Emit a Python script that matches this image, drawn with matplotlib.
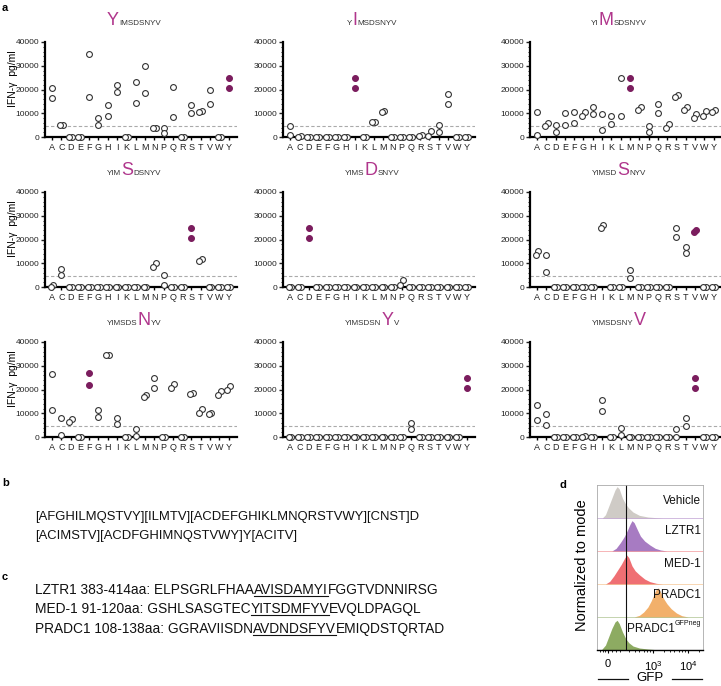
import matplotlib
matplotlib.use('Agg')
import matplotlib.pyplot as plt
from matplotlib.lines import Line2D
from matplotlib.ticker import MultipleLocator

plt.rcParams['font.family'] = ['Liberation Sans', 'DejaVu Sans']
plt.rcParams['mathtext.fontset'] = 'custom'
plt.rcParams['mathtext.rm'] = 'Liberation Sans'
plt.rcParams['mathtext.it'] = 'Liberation Sans:italic'

W, H = 721, 686

residues = ['A', 'C', 'D', 'E', 'F', 'G', 'H', 'I', 'K', 'L',
            'M', 'N', 'P', 'Q', 'R', 'S', 'T', 'V', 'W', 'Y']
peptide = 'YIMSDSNYV'

# IFN-g pg/ml, two replicates for every substitution at each peptide position
p1_r1 = [20500, 5000, 0, 0, 35000, 8000, 13500, 22000, 0, 23000, 30000, 4000, 4000, 21000, 0, 13500, 11000, 20000, 0, 25000]
p1_r2 = [16500, 5000, 0, 0, 17000, 5000, 9000, 19000, 0, 14500, 18500, 4000, 1500, 8500, 0, 10000, 10500, 14000, 0, 20500]
p2_r1 = [4500, 500, 0, 0, 0, 0, 0, 25000, 0, 6500, 11000, 0, 0, 0, 1000, 2500, 5000, 18000, 0, 0]
p2_r2 = [1000, 0, 0, 0, 0, 0, 0, 20500, 0, 6500, 10500, 0, 0, 0, 500, 500, 2000, 14000, 0, 0]
p3_r1 = [10500, 6000, 5000, 10000, 10500, 10500, 12500, 9500, 9000, 25000, 25000, 12500, 4500, 14000, 5500, 17500, 12500, 9500, 11000, 11500]
p3_r2 = [1000, 4500, 2000, 5000, 6000, 9000, 9500, 3000, 5500, 9000, 20500, 11500, 2000, 10000, 4000, 17000, 11500, 8000, 9000, 10500]
p4_r1 = [1000, 7500, 0, 0, 0, 0, 0, 0, 0, 0, 0, 10000, 5000, 0, 0, 25000, 12000, 0, 0, 0]
p4_r2 = [0, 5000, 0, 0, 0, 0, 0, 0, 0, 0, 0, 8500, 1000, 0, 0, 20500, 11000, 0, 0, 0]
p5_r1 = [0, 0, 25000, 0, 0, 0, 0, 0, 0, 0, 0, 0, 3000, 0, 0, 0, 0, 0, 0, 0]
p5_r2 = [0, 0, 20500, 0, 0, 0, 0, 0, 0, 0, 0, 0, 1000, 0, 0, 0, 0, 0, 0, 0]
p6_r1 = [15000, 13500, 0, 0, 0, 0, 0, 26000, 0, 0, 7000, 0, 0, 0, 0, 25000, 17000, 24000, 0, 0]
p6_r2 = [13500, 6500, 0, 0, 0, 0, 0, 25000, 0, 0, 4000, 0, 0, 0, 0, 21000, 14500, 23000, 0, 0]
p7_r1 = [26500, 8000, 7500, 0, 27000, 11500, 34500, 8000, 0, 3500, 17500, 25000, 0, 22500, 0, 18500, 12000, 10000, 19500, 21500]
p7_r2 = [11500, 1000, 6500, 0, 22000, 8500, 34500, 5500, 0, 500, 17000, 20500, 0, 20500, 0, 18000, 10000, 9500, 17500, 20000]
p8_r1 = [0, 0, 0, 0, 0, 0, 0, 0, 0, 0, 0, 0, 0, 6000, 0, 0, 0, 0, 0, 25000]
p8_r2 = [0, 0, 0, 0, 0, 0, 0, 0, 0, 0, 0, 0, 0, 3500, 0, 0, 0, 0, 0, 20500]
p9_r1 = [13500, 9500, 0, 0, 0, 500, 0, 15500, 0, 4000, 0, 0, 0, 0, 0, 3500, 8000, 25000, 0, 0]
p9_r2 = [7000, 5000, 0, 0, 0, 0, 0, 11000, 0, 1000, 0, 0, 0, 0, 0, 0, 4500, 20500, 0, 0]
# residue drawn as filled (native) point in each panel
native = ['Y', 'I', 'M', 'S', 'D', 'V', 'F', 'Y', 'V']
cutoff = 4600

motif_b = ['[AFGHILMQSTVY][ILMTV][ACDEFGHIKLMNQRSTVWY][CNST]D',
           '[ACIMSTV][ACDFGHIMNQSTVWY]Y[ACITV]']
seq_c = [('LZTR1 383-414aa: ELPSGRLFHAA', 'AVISDAMYI', 'FGGTVDNNIRSG'),
         ('MED-1 91-120aa: GSHLSASGTEC', 'YITSDMFYV', 'EVQLDPAGQL'),
         ('PRADC1 108-138aa: GGRAVIISDN', 'AVDNDSFYV', 'EMIQDSTQRTAD')]

# flow histograms (panel d), GFP axis in arbitrary display units, height = fraction of mode
samples = ['Vehicle', 'LZTR1', 'MED-1', 'PRADC1', 'PRADC1']
veh_x = [5, 8, 11, 14, 17, 19, 21, 24, 27, 30, 34, 40, 48, 56, 62]
veh_y = [0, 0.1, 0.35, 0.6, 0.85, 0.95, 0.88, 0.6, 0.42, 0.3, 0.18, 0.08, 0.03, 0.01, 0]
lz_x = [14, 18, 22, 26, 29, 31, 33, 35, 38, 41, 45, 50, 55, 60, 66]
lz_y = [0, 0.08, 0.25, 0.45, 0.65, 0.8, 0.92, 0.86, 0.65, 0.45, 0.3, 0.18, 0.08, 0.03, 0]
med_x = [8, 12, 16, 20, 23, 26, 28, 30, 33, 36, 40, 45, 50, 56, 62]
med_y = [0, 0.08, 0.25, 0.45, 0.6, 0.78, 0.88, 0.8, 0.55, 0.4, 0.28, 0.15, 0.07, 0.02, 0]
pr_x = [35, 40, 44, 48, 51, 54, 56, 58, 60, 63, 66, 70, 75, 80, 86]
pr_y = [0, 0.05, 0.15, 0.3, 0.48, 0.7, 0.85, 0.88, 0.75, 0.55, 0.4, 0.25, 0.12, 0.04, 0]
neg_x = [4, 8, 11, 14, 17, 19, 21, 24, 27, 30, 34, 40, 48, 56, 62]
neg_y = [0, 0.15, 0.4, 0.65, 0.85, 0.9, 0.8, 0.55, 0.35, 0.22, 0.12, 0.06, 0.03, 0.01, 0]


def fx(px):
    return px / W


def fy(py):
    return 1 - py / H


def draw_runs(fig, x0, y0, runs, center=False):
    # runs: (text, size, color, underline), laid out one after another on one baseline
    r = fig.canvas.get_renderer()
    arts = [fig.text(0, fy(y0), s, fontsize=sz, color=c, va='baseline', ha='left')
            for s, sz, c, _ in runs]
    widths = [t.get_window_extent(r).width for t in arts]
    x = x0 - sum(widths) / 2 if center else x0
    for t, w, run in zip(arts, widths, runs):
        t.set_x(fx(x))
        if run[3]:
            fig.add_artist(Line2D([fx(x), fx(x + w)], [fy(y0 + 2), fy(y0 + 2)],
                                  transform=fig.transFigure, color='#111111', lw=0.8))
        x += w


def main():
    fig = plt.figure(figsize=(W / 100, H / 100), dpi=100)

    reps = [(p1_r1, p1_r2), (p2_r1, p2_r2), (p3_r1, p3_r2), (p4_r1, p4_r2), (p5_r1, p5_r2),
            (p6_r1, p6_r2), (p7_r1, p7_r2), (p8_r1, p8_r2), (p9_r1, p9_r2)]
    lefts = [45, 283, 530]
    tops = [42, 192, 342]
    for k, (r1, r2) in enumerate(reps):
        row, col = divmod(k, 3)
        ax = fig.add_axes([fx(lefts[col]), fy(tops[row] + 95), 192 / W, 95 / H])
        ax.set_xlim(-0.75, 19.9)
        ax.set_ylim(0, 40000)
        ax.axhline(cutoff, color='#aaaaaa', ls=(0, (3, 2)), lw=0.8, zorder=1)
        for i, res in enumerate(residues):
            a, b = r1[i], r2[i]
            dx = 0.15 if abs(a - b) < 2500 else 0
            if res == native[k]:
                kw = dict(mfc='#7b1d5e', mec='#7b1d5e')
            else:
                kw = dict(mfc='white', mec='#333333')
            ax.plot([i + dx, i - dx], [a, b], 'o', ms=4.2, mew=0.8, clip_on=False, zorder=5, **kw)
        for s in ['top', 'right']:
            ax.spines[s].set_visible(False)
        for s in ['left', 'bottom']:
            ax.spines[s].set_linewidth(1.6)
        ax.set_xticks(range(len(residues)))
        ax.set_xticklabels(residues, fontsize=6.5, color='#222222')
        ax.yaxis.set_major_locator(MultipleLocator(10000))
        ax.yaxis.set_minor_locator(MultipleLocator(2000))
        ax.tick_params(axis='y', labelsize=6, length=3, width=1, pad=1, colors='#222222')
        ax.tick_params(axis='y', which='minor', length=1.5, width=0.6)
        ax.tick_params(axis='x', length=2.5, width=1, pad=1.5)
        if col == 0:
            fig.text(fx(13), fy(tops[row] + 37), 'IFN-\u03b3  pg/ml', rotation=90,
                     fontsize=7.5, ha='center', va='center')
        runs = [(peptide[:k], 5.8, '#333333', False), (peptide[k], 13, '#b0368c', False),
                (peptide[k + 1:], 5.8, '#333333', False)]
        draw_runs(fig, lefts[col] + 89, tops[row] - 17, [r for r in runs if r[0]], center=True)

    fig.text(fx(2), fy(8), 'a', fontsize=8, fontweight='bold', va='center')
    fig.text(fx(2), fy(483), 'b', fontsize=8, fontweight='bold', va='center')
    fig.text(fx(2), fy(577), 'c', fontsize=8, fontweight='bold', va='center')
    fig.text(fx(560), fy(485), 'd', fontsize=8, fontweight='bold', va='center')

    # b
    for line, y in zip(motif_b, [520, 539]):
        fig.text(fx(35), fy(y), line, fontsize=9.4, va='baseline', color='#111111')

    # c
    for (pre, core, post), y in zip(seq_c, [594, 613, 633]):
        draw_runs(fig, 35, y, [(pre, 9.9, '#111111', False), (core, 9.9, '#111111', True),
                               (post, 9.9, '#111111', False)])

    # d
    ax = fig.add_axes([fx(597), fy(650), 106 / W, 165 / H])
    ax.set_xlim(0, 100)
    ax.set_ylim(0, 5)
    hists = [(veh_x, veh_y, '#cfcbc6'), (lz_x, lz_y, '#a77bc2'), (med_x, med_y, '#ef6f73'),
             (pr_x, pr_y, '#f2b06b'), (neg_x, neg_y, '#8dab62')]
    label_y = [0.5, 0.62, 0.62, 0.66, 0.66]
    for j, ((hx, hy, c), name) in enumerate(zip(hists, samples)):
        base = 4 - j
        ax.fill_between(hx, base, [base + v for v in hy], color=c, lw=0)
        if j > 0:
            ax.axhline(base + 1, color=c, lw=0.6, alpha=0.6)
        if j < 4:
            ax.text(98, base + label_y[j], name, fontsize=8.5, ha='right', va='center', color='#111111')
        else:
            sup = ax.text(98, base + label_y[j] + 0.1, 'GFPneg', fontsize=5, ha='right',
                          va='baseline', color='#111111')
            ax.annotate(name, xy=(0, 0), xycoords=sup, xytext=(0, -3.5), textcoords='offset points',
                        fontsize=8.5, ha='right', va='baseline', color='#111111')
    ax.axvline(27.4, color='#111111', lw=0.8)
    for s in ['top', 'right', 'left']:
        ax.spines[s].set_color('#aaaaaa')
        ax.spines[s].set_linewidth(0.6)
    ax.spines['bottom'].set_linewidth(1.0)
    ax.set_yticks([])
    ax.set_xticks([10.4, 53, 86])
    ax.set_xticklabels(['0', '$10^3$', '$10^4$'], fontsize=8)
    ax.set_xticks([3, 6, 8, 14, 18, 22, 30, 36, 40, 44, 47, 50, 63, 69, 73, 77, 80, 83, 96], minor=True)
    ax.tick_params(axis='x', length=2.5, width=0.8, pad=4)
    ax.tick_params(axis='x', which='minor', length=1.5, width=0.6)
    fig.text(fx(582), fy(565), 'Normalized to mode', rotation=90, fontsize=10.5,
             ha='center', va='center')
    fig.text(fx(650), fy(678), 'GFP', fontsize=9.5, ha='center', va='center')
    for xa, xb in [(598, 628), (672, 702)]:
        fig.add_artist(Line2D([fx(xa), fx(xb)], [fy(679), fy(679)], transform=fig.transFigure,
                              color='#111111', lw=0.9))

    fig.savefig('out.png', dpi=100)


if __name__ == '__main__':
    main()
